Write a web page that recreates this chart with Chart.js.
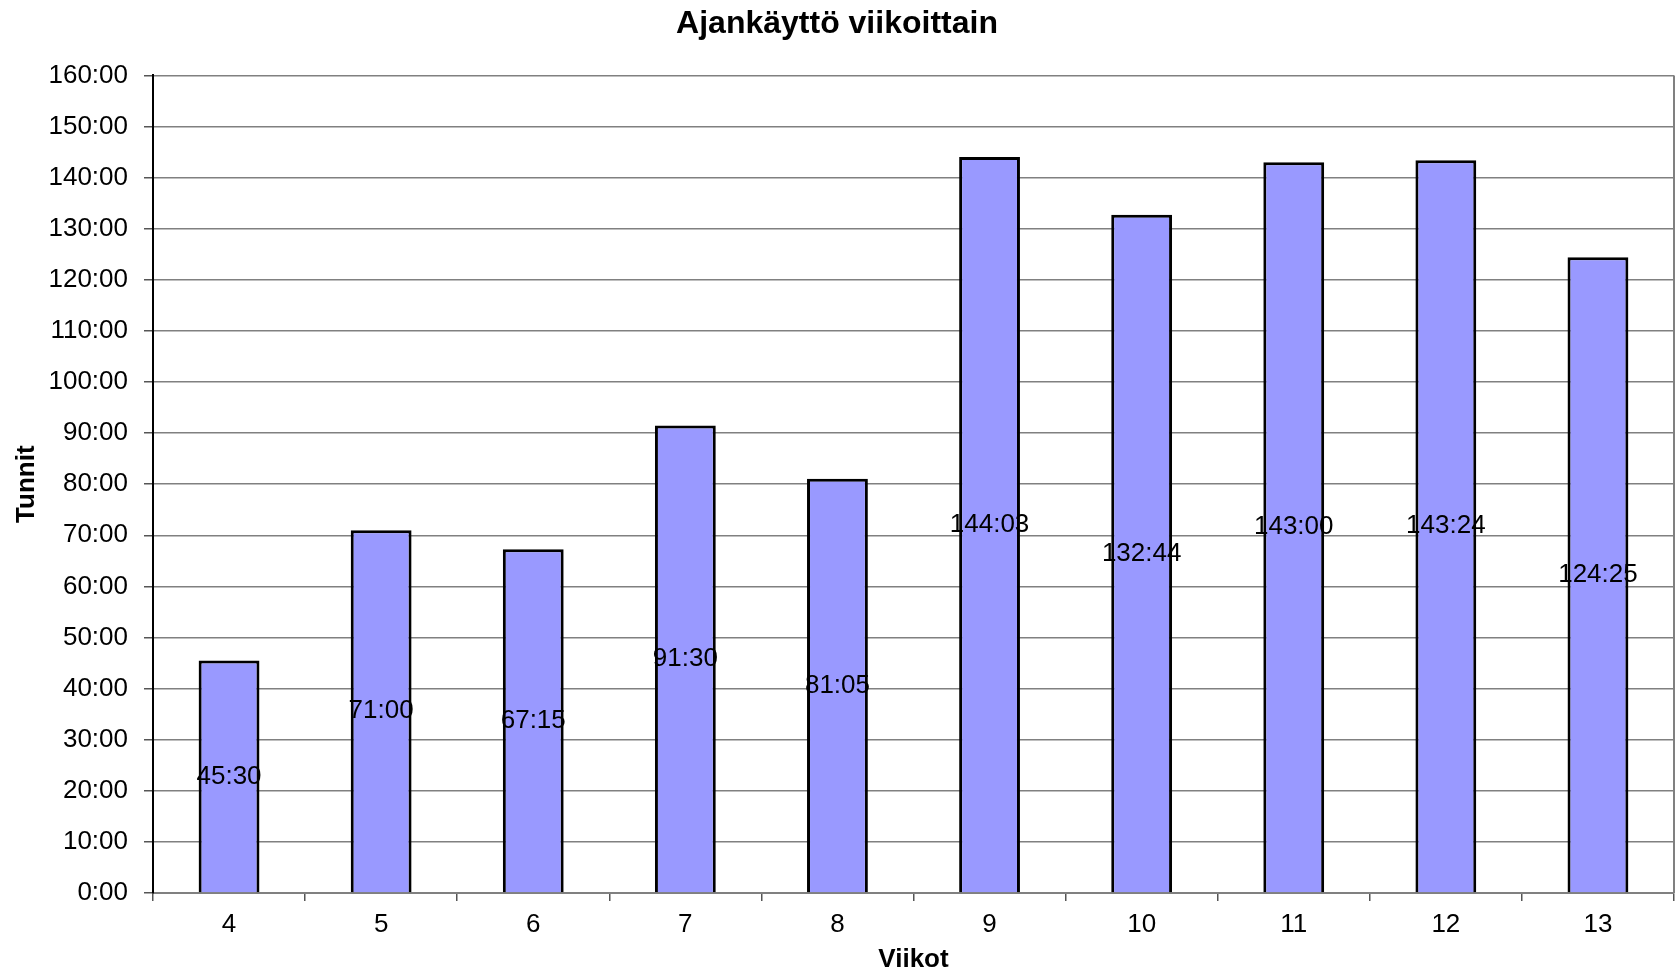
<!DOCTYPE html>
<html>
<head>
<meta charset="utf-8">
<script src="https://cdn.jsdelivr.net/npm/chart.js@4/dist/chart.umd.min.js"></script>
<style>
  html, body { margin: 0; padding: 0; background: #fff; }
  canvas { display: block; }
</style>
</head>
<body>
<canvas id="chart" width="1677" height="974"></canvas>
<script>
// Weeks and hours used per week (h:mm)
const weeks = ["4", "5", "6", "7", "8", "9", "10", "11", "12", "13"];
const hoursText = ["45:30", "71:00", "67:15", "91:30", "81:05", "144:03", "132:44", "143:00", "143:24", "124:25"];
const yTicks = [0, 10, 20, 30, 40, 50, 60, 70, 80, 90, 100, 110, 120, 130, 140, 150, 160];

// "h:mm" -> decimal hours
const toHours = (s) => {
  const [h, m] = s.split(":").map(Number);
  return h + m / 60;
};
const hours = hoursText.map(toHours);

const FONT = "Arial, 'Liberation Sans', sans-serif";

// Labels in the middle of each bar + right frame line
const barLabels = {
  id: "barLabels",
  afterDatasetsDraw(chart) {
    const ctx = chart.ctx;
    const meta = chart.getDatasetMeta(0);
    ctx.save();
    ctx.font = "26px " + FONT;
    ctx.fillStyle = "#000";
    ctx.textAlign = "center";
    ctx.textBaseline = "middle";
    meta.data.forEach((bar, i) => {
      ctx.fillText(hoursText[i], bar.x, (bar.y + bar.base) / 2);
    });
    ctx.restore();
  },
  afterDraw(chart) {
    const { ctx, chartArea } = chart;
    ctx.save();
    ctx.strokeStyle = "#808080";
    ctx.lineWidth = 2;
    ctx.beginPath();
    ctx.moveTo(chartArea.right, chartArea.top);
    ctx.lineTo(chartArea.right, chartArea.bottom);
    ctx.stroke();
    ctx.restore();
  }
};

new Chart(document.getElementById("chart"), {
  type: "bar",
  data: {
    labels: weeks,
    datasets: [{
      data: hours,
      backgroundColor: "#9999ff",
      borderColor: "#000",
      borderWidth: 3,
      barPercentage: 0.4,
      categoryPercentage: 1.0
    }]
  },
  options: {
    responsive: false,
    animation: false,
    layout: { padding: { left: 0, right: 3, top: 0, bottom: 0 } },
    plugins: {
      legend: { display: false },
      tooltip: { enabled: false },
      title: {
        display: true,
        text: "Ajankäyttö viikoittain",
        color: "#000",
        font: { family: FONT, size: 32, weight: "bold", lineHeight: 1.2 },
        padding: { top: 5, bottom: 32 }
      }
    },
    scales: {
      x: {
        afterFit: (s) => { s.height = 81; },
        grid: {
          offset: true,
          drawOnChartArea: false,
          drawTicks: true,
          tickLength: 8,
          tickColor: "#555",
          lineWidth: 1.5
        },
        border: { color: "#808080", width: 2 },
        ticks: {
          color: "#000",
          padding: 8,
          font: { family: FONT, size: 26 }
        },
        title: {
          display: true,
          text: "Viikot",
          color: "#000",
          font: { family: FONT, size: 26, weight: "bold", lineHeight: 1 },
          padding: { top: 0, bottom: 1 }
        }
      },
      y: {
        min: 0,
        max: 160,
        afterFit: (s) => { s.width = 153; },
        afterBuildTicks: (s) => { s.ticks = yTicks.map((v) => ({ value: v })); },
        grid: {
          color: "#808080",
          lineWidth: 1.5,
          tickLength: 9,
          tickColor: "#555"
        },
        border: { color: "#000", width: 2 },
        ticks: {
          color: "#000",
          padding: 16,
          font: { family: FONT, size: 26 },
          callback: (v) => v + ":00"
        },
        title: {
          display: true,
          text: "Tunnit",
          color: "#000",
          font: { family: FONT, size: 26, weight: "bold", lineHeight: 1.2 },
          padding: { top: 11, bottom: 0 }
        }
      }
    }
  },
  plugins: [barLabels]
});
</script>
</body>
</html>
